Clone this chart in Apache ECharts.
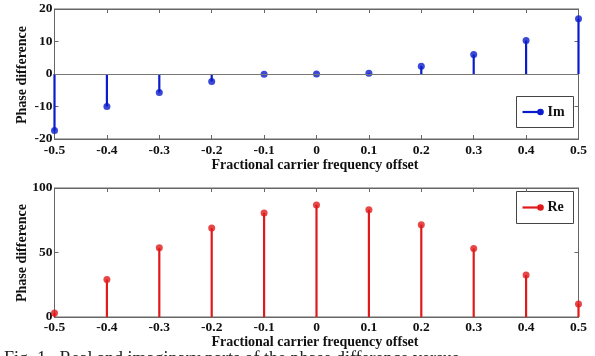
<!DOCTYPE html>
<html><head><meta charset="utf-8">
<script src="https://cdn.jsdelivr.net/npm/echarts@6/dist/echarts.min.js"></script>
<style>html,body{margin:0;padding:0;background:#fff;overflow:hidden}#c{width:595px;height:356px}</style>
</head><body><div id="c"></div>
<script>
const offsets = [-0.5, -0.4, -0.3, -0.2, -0.1, 0, 0.1, 0.2, 0.3, 0.4, 0.5];
const imValues = [-17.4, -10.0, -5.7, -2.3, -0.1, 0.0, 0.2, 2.4, 6.0, 10.3, 17.0];
const reValues = [3.1, 29.1, 53.6, 69.0, 80.7, 86.9, 83.2, 71.6, 53.1, 32.5, 10.0];
const xTitle = 'Fractional carrier frequency offset';
const yTitle = 'Phase difference';
const caption = 'Fig. 1.  Real and imaginary parts of the phase difference versus';

const FONT = '"Liberation Serif", "DejaVu Serif", serif';
const BLUE = '#0a1ccc';
const RED = '#e01a1a';
const AX = '#666';

const chart = echarts.init(document.getElementById('c'), null, {renderer: 'canvas'});

const L = 54.5, R = 16.5;
const grids = [
  {left: L, right: R, top: 9, height: 130, show: true, borderColor: AX, borderWidth: 1},
  {left: L, right: R, top: 188, height: 129, show: true, borderColor: AX, borderWidth: 1}
];

function xAxes(gi, margin) {
  return [
    {type: 'value', gridIndex: gi, min: -0.5, max: 0.5, interval: 0.1, position: 'bottom',
     axisLine: {show: true, onZero: false, lineStyle: {color: AX}},
     axisTick: {show: true, inside: true, length: 4, lineStyle: {color: AX}},
     splitLine: {show: false},
     axisLabel: {color: '#111', fontFamily: FONT, fontWeight: 'bold', fontSize: 13.5, margin: margin,
       formatter: v => { const r = Math.round(v * 10) / 10; return r === 0 ? '0' : r.toFixed(1); }}},
    {type: 'value', gridIndex: gi, min: -0.5, max: 0.5, interval: 0.1, position: 'top',
     axisLine: {show: true, onZero: false, lineStyle: {color: AX}},
     axisTick: {show: true, inside: true, length: 4, lineStyle: {color: AX}},
     splitLine: {show: false}, axisLabel: {show: false}}
  ];
}
function yAxes(gi, min, max, interval) {
  return [
    {type: 'value', gridIndex: gi, min: min, max: max, interval: interval, position: 'left',
     axisLine: {show: true, onZero: false, lineStyle: {color: AX}},
     axisTick: {show: true, inside: true, length: 4, lineStyle: {color: AX}},
     splitLine: {show: false},
     axisLabel: {color: '#111', fontFamily: FONT, fontWeight: 'bold', fontSize: 13.5, margin: 2}},
    {type: 'value', gridIndex: gi, min: min, max: max, interval: interval, position: 'right',
     axisLine: {show: true, onZero: false, lineStyle: {color: AX}},
     axisTick: {show: true, inside: true, length: 4, lineStyle: {color: AX}},
     splitLine: {show: false}, axisLabel: {show: false}}
  ];
}

function stemSeries(xi, yi, values, color, withBase) {
  const data = offsets.map((x, i) => [x, values[i]]);
  return [{
    type: 'custom', xAxisIndex: xi, yAxisIndex: yi, data: data, z: 3,
    renderItem: function (params, api) {
      const p0 = api.coord([api.value(0), 0]);
      const p1 = api.coord([api.value(0), api.value(1)]);
      return {type: 'line', shape: {x1: p0[0], y1: p0[1], x2: p1[0], y2: p1[1]},
              style: {stroke: color, lineWidth: 2.2}};
    }
  }, {
    type: 'scatter', xAxisIndex: xi, yAxisIndex: yi, data: data, symbol: 'circle', symbolSize: 7, z: 4,
    itemStyle: {color: color}, silent: true,
    markLine: withBase ? {silent: true, symbol: 'none', label: {show: false},
      lineStyle: {color: '#777', width: 1.2, type: 'solid'}, data: [{yAxis: 0}]} : undefined
  }];
}

function legendBox(x, y, w, h, color, label) {
  return {type: 'group', left: x, top: y, children: [
    {type: 'rect', shape: {x: 0, y: 0, width: w, height: h}, style: {fill: '#fff', stroke: '#444', lineWidth: 1}},
    {type: 'line', shape: {x1: 6, y1: h / 2, x2: 24, y2: h / 2}, style: {stroke: color, lineWidth: 2.2}},
    {type: 'circle', shape: {cx: 24, cy: h / 2, r: 3.3}, style: {fill: color}},
    {type: 'text', x: 31, y: h / 2, style: {text: label, font: 'bold 14px ' + FONT, fill: '#111', textVerticalAlign: 'middle'}}
  ]};
}

chart.setOption({
  animation: false,
  backgroundColor: '#fff',
  grid: grids,
  xAxis: [...xAxes(0, 5), ...xAxes(1, 4)],
  yAxis: [...yAxes(0, -20, 20, 10), ...yAxes(1, 0, 100, 50)],
  series: [...stemSeries(0, 0, imValues, BLUE, true), ...stemSeries(2, 2, reValues, RED, false)],
  graphic: [
    {type: 'text', x: 315, y: 165, style: {text: xTitle, font: 'bold 14px ' + FONT, fill: '#111', textAlign: 'center', textVerticalAlign: 'middle'}},
    {type: 'text', x: 315, y: 342, style: {text: xTitle, font: 'bold 14px ' + FONT, fill: '#111', textAlign: 'center', textVerticalAlign: 'middle'}},
    {type: 'text', x: 22, y: 75, rotation: Math.PI / 2, style: {text: yTitle, font: 'bold 14px ' + FONT, fill: '#111', textAlign: 'center', textVerticalAlign: 'middle'}},
    {type: 'text', x: 22, y: 253, rotation: Math.PI / 2, style: {text: yTitle, font: 'bold 14px ' + FONT, fill: '#111', textAlign: 'center', textVerticalAlign: 'middle'}},
    legendBox(516, 96, 57, 31, BLUE, 'Im'),
    legendBox(516, 191, 57, 32, RED, 'Re'),
    {type: 'text', x: 4, y: 350, style: {text: caption, font: '18px ' + FONT, fill: '#222', textVerticalAlign: 'top'}}
  ]
});
</script></body></html>
